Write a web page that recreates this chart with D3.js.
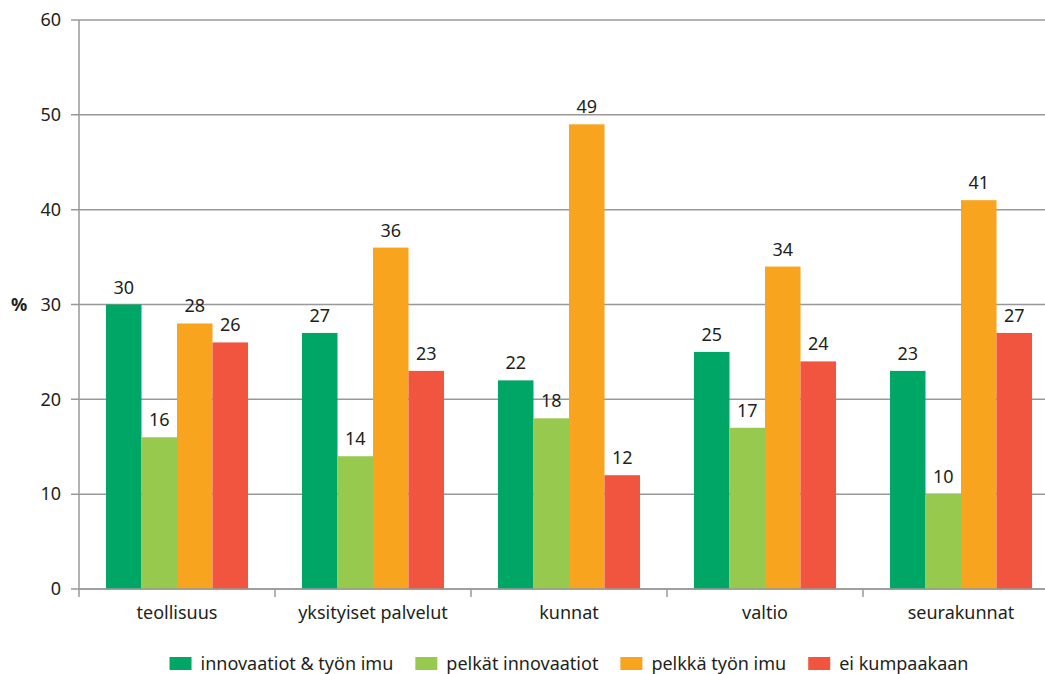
<!DOCTYPE html>
<html>
<head>
<meta charset="utf-8">
<script src="https://cdn.jsdelivr.net/npm/d3@7"></script>
<style>
  html, body { margin: 0; padding: 0; background: #fff; }
  svg { display: block; font-family: "Noto Sans", "Open Sans", sans-serif; }
</style>
</head>
<body>
<svg id="chart" width="1045" height="674"></svg>
<script>
// Sectors on the x axis
const categories = ["teollisuus", "yksityiset palvelut", "kunnat", "valtio", "seurakunnat"];

// Series (legend order) and their shares, %
const seriesNames = ["innovaatiot & työn imu", "pelkät innovaatiot", "pelkkä työn imu", "ei kumpaakaan"];
const innovaatiotJaTyonImu = [30, 27, 22, 25, 23];
const pelkatInnovaatiot = [16, 14, 18, 17, 10];
const pelkkaTyonImu = [28, 36, 49, 34, 41];
const eiKumpaakaan = [26, 23, 12, 24, 27];

// Y axis ticks
const yTicks = [0, 10, 20, 30, 40, 50, 60];

const seriesValues = [innovaatiotJaTyonImu, pelkatInnovaatiot, pelkkaTyonImu, eiKumpaakaan];
const colors = ["#00a665", "#97c94e", "#f8a41e", "#f1543f"];

const svg = d3.select("#chart");
const margin = { left: 79, right: -14, top: 20, bottom: 85 };
const W = 1045, H = 674;
const fontSize = 18;

const x0 = d3.scaleBand()
  .domain(categories)
  .range([margin.left, W - margin.right])
  .paddingInner(0).paddingOuter(0);

const x1 = d3.scaleBand()
  .domain(seriesNames)
  .range([0, x0.bandwidth()])
  .paddingInner(0).paddingOuter(0.76);

const y = d3.scaleLinear()
  .domain([0, 60])
  .range([H - margin.bottom, margin.top]);

const axisColor = "#98989a";
const textColor = "#231f20";

// Horizontal gridlines (with the small left ticks)
svg.append("g")
  .selectAll("line")
  .data(yTicks)
  .join("line")
  .attr("x1", margin.left - 8)
  .attr("x2", W - margin.right)
  .attr("y1", d => y(d))
  .attr("y2", d => y(d))
  .attr("stroke", axisColor)
  .attr("stroke-width", 1.5);

// Bars
const rows = categories.map((c, i) => ({
  category: c,
  values: seriesNames.map((s, j) => ({ series: s, value: seriesValues[j][i], color: colors[j] }))
}));

const groups = svg.append("g")
  .selectAll("g")
  .data(rows)
  .join("g")
  .attr("transform", d => `translate(${x0(d.category)},0)`);

groups.selectAll("rect")
  .data(d => d.values)
  .join("rect")
  .attr("x", d => x1(d.series))
  .attr("width", x1.bandwidth())
  .attr("y", d => y(d.value))
  .attr("height", d => y(0) - y(d.value))
  .attr("fill", d => d.color);

// Value labels above bars
groups.selectAll("text")
  .data(d => d.values)
  .join("text")
  .attr("x", d => x1(d.series) + x1.bandwidth() / 2)
  .attr("y", d => y(d.value) - 11)
  .attr("text-anchor", "middle")
  .attr("font-size", fontSize)
  .attr("fill", textColor)
  .text(d => d.value);

// Y axis line
svg.append("line")
  .attr("x1", margin.left).attr("x2", margin.left)
  .attr("y1", y(60)).attr("y2", y(0) + 8)
  .attr("stroke", axisColor).attr("stroke-width", 1.5);

// X axis line and group separators
svg.append("line")
  .attr("x1", margin.left).attr("x2", W - margin.right)
  .attr("y1", y(0)).attr("y2", y(0))
  .attr("stroke", axisColor).attr("stroke-width", 1.5);

svg.append("g")
  .selectAll("line")
  .data(categories.slice(1))
  .join("line")
  .attr("x1", d => x0(d)).attr("x2", d => x0(d))
  .attr("y1", y(0)).attr("y2", y(0) + 8)
  .attr("stroke", axisColor).attr("stroke-width", 1.5);

// Y tick labels
svg.append("g")
  .selectAll("text")
  .data(yTicks)
  .join("text")
  .attr("x", margin.left - 18)
  .attr("y", d => y(d))
  .attr("dy", "0.35em")
  .attr("text-anchor", "end")
  .attr("font-size", fontSize)
  .attr("fill", textColor)
  .text(d => d);

// Y axis title
svg.append("text")
  .attr("x", 19)
  .attr("y", y(30))
  .attr("dy", "0.35em")
  .attr("text-anchor", "middle")
  .attr("font-size", fontSize)
  .attr("font-weight", "bold")
  .attr("fill", textColor)
  .text("%");

// Category labels
svg.append("g")
  .selectAll("text")
  .data(categories)
  .join("text")
  .attr("x", d => x0(d) + x0.bandwidth() / 2)
  .attr("y", y(0) + 30)
  .attr("text-anchor", "middle")
  .attr("font-size", fontSize)
  .attr("fill", textColor)
  .text(d => d);

// Legend: swatch + label, laid out in a row centred under the plot
const legend = svg.append("g");
const swW = 22, swH = 13, swGap = 9, itemGap = 22;
const items = legend.selectAll("g")
  .data(seriesNames)
  .join("g");
items.append("rect")
  .attr("width", swW).attr("height", swH)
  .attr("y", 657)
  .attr("fill", (d, i) => colors[i]);
items.append("text")
  .attr("x", swW + swGap)
  .attr("y", 670)
  .attr("font-size", fontSize)
  .attr("fill", textColor)
  .text(d => d);

let offsets = [], cur = 0;
items.each(function () {
  offsets.push(cur);
  cur += swW + swGap + d3.select(this).select("text").node().getComputedTextLength() + itemGap;
});
const totalW = cur - itemGap;
const centre = (margin.left + (W - margin.right)) / 2;
items.attr("transform", (d, i) => `translate(${centre - totalW / 2 + offsets[i]},0)`);
</script>
</body>
</html>
